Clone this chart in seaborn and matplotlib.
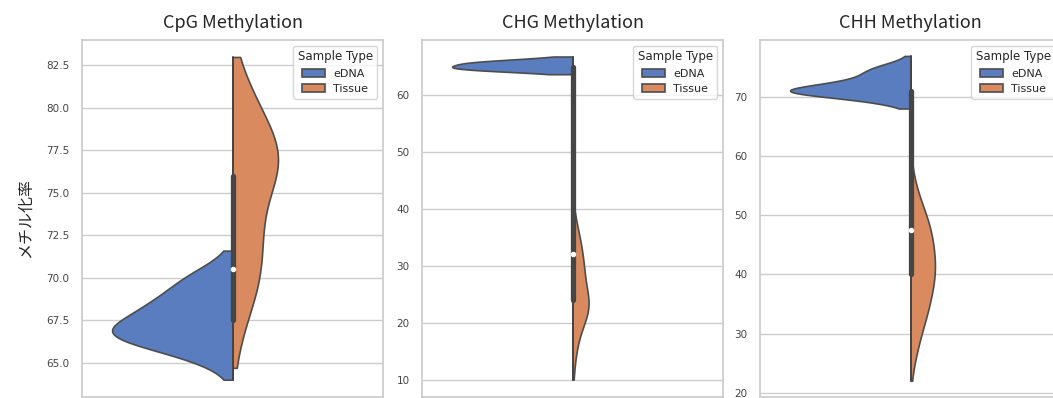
import numpy as np
import pandas as pd
import matplotlib
matplotlib.use("Agg")
import matplotlib.pyplot as plt
import seaborn as sns

# --- data: methylation levels and how many samples share them ---
contexts = ["CpG", "CHG", "CHH"]
titles = ["CpG Methylation", "CHG Methylation", "CHH Methylation"]
sample_types = ["eDNA", "Tissue"]

cpg_edna_vals = [64.0, 64.5, 65.0, 65.5, 66.0, 66.5, 67.0, 67.5, 68.0, 68.5,
                 69.0, 69.5, 70.0, 70.5, 71.0, 71.6]
cpg_edna_counts = [1, 1, 4, 7, 11, 16, 15, 13, 11, 10, 8, 7, 6, 4, 2, 1]
cpg_tissue_vals = [64.7, 66, 67, 68, 69, 70, 71, 72, 73, 74, 75, 76, 77, 78,
                   79, 80, 81, 82, 83]
cpg_tissue_counts = [2, 2, 4, 6, 8, 10, 10, 10, 10, 10, 12, 16, 18, 16, 12,
                     10, 6, 4, 2]

chg_edna_vals = [63.6, 63.8, 64.0, 64.2, 64.4, 64.6, 64.8, 65.0, 65.2, 65.4,
                 65.6, 65.8, 66.0, 66.2, 66.4, 66.7]
chg_edna_counts = [1, 1, 3, 4, 5, 5, 6, 5, 5, 5, 5, 4, 4, 2, 2, 1]
chg_tissue_vals = [10, 12, 14, 16, 18, 20, 22, 24, 26, 28, 30, 32, 34, 36,
                   38, 39.5]
chg_tissue_counts = [1, 1, 2, 3, 5, 7, 14, 12, 9, 8, 8, 7, 6, 4, 2, 1]

chh_edna_vals = [68.1, 68.5, 69.0, 69.5, 70.0, 70.5, 71.0, 71.5, 72.0, 72.5,
                 73.0, 73.5, 74.0, 74.5, 75.0, 75.5, 76.0, 77.0]
chh_edna_counts = [1, 1, 3, 5, 8, 12, 16, 13, 10, 8, 6, 5, 5, 5, 4, 3, 2, 1]
chh_tissue_vals = [22.0, 25.0, 27.5, 30.0, 32.5, 35.0, 37.5, 40.0, 42.5, 45.0,
                   47.5, 50.0, 52.5, 55.0, 57.0, 58.5]
chh_tissue_counts = [1, 3, 6, 8, 13, 15, 18, 20, 20, 18, 17, 13, 8, 4, 1, 1]

edna_sets = [(cpg_edna_vals, cpg_edna_counts), (chg_edna_vals, chg_edna_counts),
             (chh_edna_vals, chh_edna_counts)]
tissue_sets = [(cpg_tissue_vals, cpg_tissue_counts),
               (chg_tissue_vals, chg_tissue_counts),
               (chh_tissue_vals, chh_tissue_counts)]

# --- style ---
sns.set_theme(style="whitegrid")
plt.rcParams["font.family"] = ["DejaVu Sans", "Noto Sans CJK JP"]
jp = ["Noto Sans CJK JP", "DejaVu Sans"]

W, H = 1053, 398
fig = plt.figure(figsize=(W / 100, H / 100), dpi=100)
lefts = [82, 422, 760]
ylims = [(63.0, 84.0), (7.0, 69.6), (19.3, 79.7)]

for i, ctx in enumerate(contexts):
    ax = fig.add_axes([lefts[i] / W, 1.3 / H, 301 / W, 356.7 / H])
    e = np.repeat(*edna_sets[i])
    t = np.repeat(*tissue_sets[i])
    df = pd.DataFrame({
        "Context": ctx,
        "Sample Type": [sample_types[0]] * len(e) + [sample_types[1]] * len(t),
        "value": np.concatenate([e, t]),
    })

    sns.violinplot(data=df, x="Context", y="value", hue="Sample Type",
                   hue_order=sample_types, split=True, inner=None, cut=0,
                   common_norm=True, palette="muted", linewidth=1.2,
                   linecolor="#4d4d4d", ax=ax)
    # one box for both sample types, drawn over the split line
    sns.violinplot(data=df, x="Context", y="value", inner="box", cut=0,
                   fill=False, linewidth=0,
                   inner_kws=dict(box_width=3.8, whis_width=1.4, color="#454545",
                                  marker="o"),
                   ax=ax)

    ax.set_ylim(*ylims[i])
    ax.set_xlabel("")
    ax.set_ylabel("")
    ax.tick_params(axis="y", labelsize=7.5, pad=3, labelcolor="#444444")
    ax.set_title(titles[i], fontsize=13, family=jp, pad=9)
    sns.move_legend(ax, "upper right", title="Sample Type", fontsize=8,
                    title_fontsize=8.5, frameon=True)

    if i == 0:
        ax.set_ylabel("メチル化率", fontsize=11.5, family=jp, labelpad=9)

fig.savefig("out.png", dpi=100)
